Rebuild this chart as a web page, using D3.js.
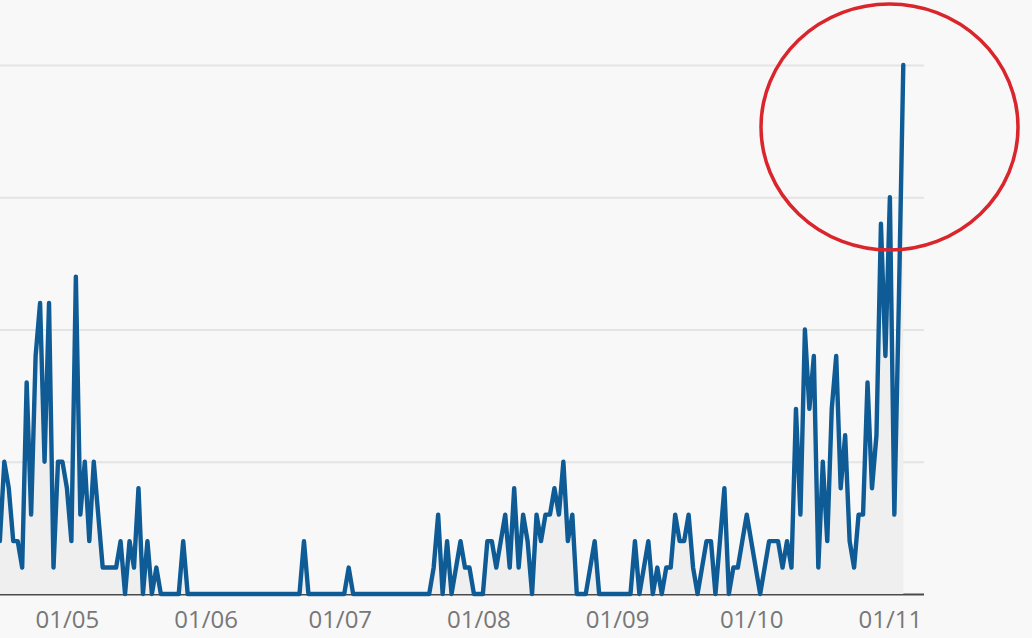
<!DOCTYPE html>
<html>
<head>
<meta charset="utf-8">
<script src="https://cdn.jsdelivr.net/npm/d3@7/dist/d3.min.js"></script>
<style>
  html, body { margin: 0; padding: 0; background: #f8f8f8; }
  svg { display: block; }
</style>
</head>
<body>
<svg id="chart" width="1032" height="638"></svg>
<script>
// ---- data (daily counts) ----
const startDate = "2023-04-16";
const values = [
  2, 5, 4, 2, 2, 1, 8, 3, 9, 11, 5, 11, 1, 5, 5,          // Apr 16 - Apr 30
  4, 2, 12, 3, 5, 2, 5, 3, 1, 1, 1, 1, 2, 0, 2, 1, 4, 0, 2, 0, 1, 0, // May 1 - May 22
  0, 0, 0, 0, 2, 0, 0, 0, 0,                              // May 23 - May 31
  0, 0, 0, 0, 0, 0, 0, 0, 0, 0, 0, 0, 0, 0, 0, 0, 0, 0, 0, 0, 0, 0, 2, 0, 0, 0, 0, 0, 0, 0, // June
  0, 0, 1, 0, 0, 0, 0, 0, 0, 0, 0, 0, 0, 0, 0, 0, 0, 0, 0, 0, 0, 1, 3, 0, 2, 0, 1, 2, 1, 1, 0, // July
  0, 0, 2, 2, 1, 2, 3, 1, 4, 1, 3, 2, 0, 3, 2, 3, 3, 4, 3, 5, 2, 3, 0, 0, 0, 1, 2, 0, 0, 0, 0, // August
  0, 0, 0, 0, 2, 0, 1, 2, 0, 1, 0, 1, 1, 3, 2, 2, 3, 1, 0, 1, 2, 2, 0, 2, 4, 0, 1, 1, 2, 3,    // September
  2, 1, 0, 1, 2, 2, 2, 1, 2, 1, 7, 3, 10, 7, 9, 1, 5, 2, 7, 9, 4, 6, 2, 1, 3, 3, 8, 4, 6, 14, 9, // October
  15, 3, 11, 20                                           // Nov 1 - Nov 4
];
const tickDates = ["2023-05-01", "2023-06-01", "2023-07-01", "2023-08-01", "2023-09-01", "2023-10-01", "2023-11-01"];
const tickLabels = ["01/05", "01/06", "01/07", "01/08", "01/09", "01/10", "01/11"];
const yTicks = [0, 5, 10, 15, 20];

// ---- layout ----
const W = 1032, H = 638;
const plotRight = 924;
const baseY = 594, topY = 65;

const parse = d3.utcParse("%Y-%m-%d");
const start = parse(startDate);
const data = values.map((v, i) => ({ date: d3.utcDay.offset(start, i), value: v }));

const x = d3.scaleUtc()
  .domain([parse("2023-04-17"), parse("2023-11-04")])
  .range([4.3, 903.3]);
const y = d3.scaleLinear().domain([0, 20]).range([baseY, topY]);

const svg = d3.select("#chart");

svg.append("defs").append("clipPath").attr("id", "clip")
  .append("rect").attr("x", 0).attr("y", 0).attr("width", W).attr("height", H);

// gridlines
const yAxis = svg.append("g")
  .call(d3.axisLeft(y).tickValues(yTicks).tickSize(-plotRight).tickFormat(""));
yAxis.select(".domain").remove();
yAxis.selectAll(".tick line")
  .attr("stroke", d => d === 0 ? "#4a4a4a" : "#e4e4e4")
  .attr("stroke-width", d => d === 0 ? 2 : 2);

// area + line
const g = svg.append("g").attr("clip-path", "url(#clip)");
g.append("path")
  .datum(data)
  .attr("fill", "#efefef")
  .attr("d", d3.area().x(d => x(d.date)).y0(baseY).y1(d => y(d.value)));

// redraw baseline over area
yAxis.raise();

g.append("path")
  .datum(data)
  .attr("fill", "none")
  .attr("stroke", "#0e5b96")
  .attr("stroke-width", 4.4)
  .attr("stroke-linejoin", "round")
  .attr("stroke-linecap", "round")
  .attr("d", d3.line().x(d => x(d.date)).y(d => y(d.value)));
g.raise();

// x axis labels
const xAxis = svg.append("g")
  .attr("transform", `translate(0,${baseY})`)
  .call(d3.axisBottom(x)
    .tickValues(tickDates.map(parse))
    .tickSize(0)
    .tickPadding(0)
    .tickFormat((d, i) => tickLabels[i]));
xAxis.select(".domain").remove();
xAxis.selectAll("text")
  .attr("dy", null)
  .attr("y", 34)
  .attr("fill", "#777")
  .style("font-family", "'Open Sans', sans-serif")
  .style("font-size", "24px");

// highlight ellipse
svg.append("ellipse")
  .attr("cx", 889.5).attr("cy", 127)
  .attr("rx", 128.5).attr("ry", 123)
  .attr("fill", "none")
  .attr("stroke", "#d9252b")
  .attr("stroke-width", 3.5);
</script>
</body>
</html>
